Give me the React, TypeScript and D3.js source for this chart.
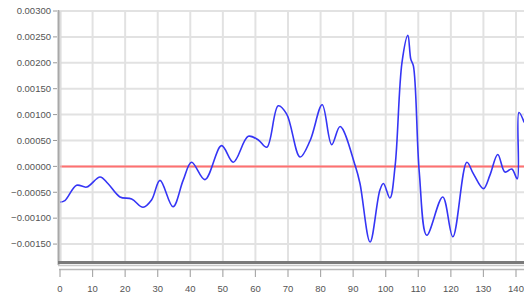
import * as d3 from "d3";

const W = 524;
const H = 300;
const PLOT = { left: 60, top: 11, bottom: 261 };

const xs = [0, 1.5, 5.1, 8.2, 12.3, 14.7, 18.4, 22, 25.5, 28.1, 30.7, 34.7, 37.8, 40.4, 44.5, 49.6, 53.2, 57.8, 60.9, 63.5, 67, 69.6, 73.7, 76.8, 80.5, 83.4, 86, 90.6, 92.1, 95.2, 98.2, 99.3, 101.3, 102.9, 105, 106.8, 107.7, 108.5, 110.3, 112.6, 117.5, 120.6, 124.9, 126.9, 130, 132, 134.4, 136.6, 138.7, 140.4, 140.9, 142.5];
const ys = [-0.00069, -0.00066, -0.000365, -0.0004, -0.000205, -0.00033, -0.00059, -0.00063, -0.00079, -0.00065, -0.00027, -0.00078, -0.00027, 0.00008, -0.000256, 0.0004, 0.00008, 0.00058, 0.00051, 0.00037, 0.00117, 0.00101, 0.00018, 0.0005, 0.00119, 0.00042, 0.00077, 0.00002, -0.00033, -0.00146, -0.00046, -0.00033, -0.00061, 0.00002, 0.00201, 0.00253, 0.00207, 0.00194, -0.00011, -0.00133, -0.00059, -0.00136, 0.00008, -0.00014, -0.00043, -0.00017, 0.00023, -0.00011, -0.00005, -0.00024, 0.00104, 0.00085];

const xTicks = [0, 10, 20, 30, 40, 50, 60, 70, 80, 90, 100, 110, 120, 130, 140];
const yTicks = [-0.0015, -0.001, -0.0005, 0, 0.0005, 0.001, 0.0015, 0.002, 0.0025, 0.003];

export default function App() {
  const x = d3.scaleLinear().domain([0, 140]).range([PLOT.left, 516]);
  const y = d3.scaleLinear().domain([-0.001827, 0.003]).range([PLOT.bottom, PLOT.top]);
  const fmt = d3.format(".5f");

  const line = d3
    .line<number>()
    .x((_, i) => x(xs[i]))
    .y((d) => y(d))
    .curve(d3.curveCatmullRom.alpha(0.5));

  const font = "'Liberation Sans', Arial, sans-serif";

  return (
    <div style={{ position: "fixed", left: 0, top: 0 }}>
      <svg width={W} height={H} style={{ display: "block", background: "#fff" }}>
        <rect x={0} y={0} width={W} height={H} fill="#fff" />
        {/* grid */}
        {yTicks.map((t) => (
          <line key={"h" + t} x1={PLOT.left} x2={W} y1={y(t)} y2={y(t)} stroke="#e2e2e2" strokeWidth={2} />
        ))}
        {xTicks.map((t) => (
          <line key={"v" + t} x1={x(t)} x2={x(t)} y1={PLOT.top} y2={PLOT.bottom} stroke="#e2e2e2" strokeWidth={2} />
        ))}
        {/* zero line */}
        <line x1={PLOT.left} x2={W} y1={y(0)} y2={y(0)} stroke="#ff7070" strokeWidth={2} />
        {/* signal */}
        <path d={line(ys) || ""} fill="none" stroke="#3535f5" strokeWidth={1.6} />
        {/* left axis */}
        <line x1={58.5} x2={58.5} y1={PLOT.top - 1} y2={PLOT.bottom + 4} stroke="#a8a8a8" strokeWidth={2} />
        <line x1={61} x2={61} y1={PLOT.top} y2={PLOT.bottom} stroke="#d8d8d8" strokeWidth={1} />
        {yTicks.map((t) => (
          <g key={"yt" + t}>
            <line x1={53} x2={57} y1={y(t)} y2={y(t)} stroke="#999" />
            <text x={51} y={y(t)} dy="0.35em" textAnchor="end" fontSize={9.5} fill="#555" fontFamily={font}>
              {fmt(t)}
            </text>
          </g>
        ))}
        {/* bottom bar */}
        <line x1={58} x2={W} y1={262.5} y2={262.5} stroke="#7a7a7a" strokeWidth={3} />
        <line x1={58} x2={W} y1={265.5} y2={265.5} stroke="#c8c8c8" strokeWidth={1.5} />
        {/* x axis */}
        <line x1={59} x2={W} y1={269.5} y2={269.5} stroke="#b8b8b8" strokeWidth={1.5} />
        {xTicks.map((t) => (
          <g key={"xt" + t}>
            <line x1={x(t)} x2={x(t)} y1={269} y2={277} stroke="#aaa" strokeWidth={1.2} />
            <text x={x(t)} y={292} textAnchor="middle" fontSize={9.5} fill="#555" fontFamily={font}>
              {t}
            </text>
          </g>
        ))}
      </svg>
    </div>
  );
}
